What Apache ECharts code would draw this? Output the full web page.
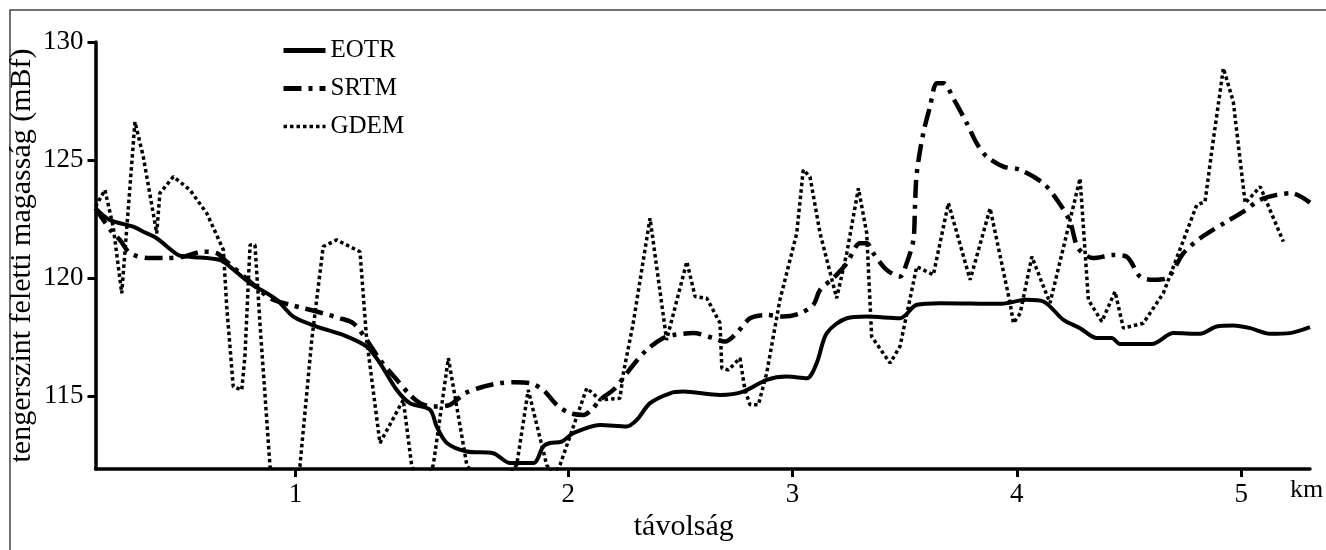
<!DOCTYPE html>
<html>
<head>
<meta charset="utf-8">
<script src="https://cdn.jsdelivr.net/npm/echarts@6/dist/echarts.min.js"></script>
<style>
  html, body { margin: 0; padding: 0; background: #fff; }
  #chart { width: 1326px; height: 550px; }
</style>
</head>
<body>
<div id="chart"></div>
<script>
// ---- data (distance in km, elevation in m above Baltic sea level) ----
const seriesNames = ['EOTR', 'SRTM', 'GDEM'];

const eotrKm = [-0.107,-0.043,0.061,0.106,0.166,0.262,0.314,0.448,0.492,0.582,0.701,0.775,0.879,0.998,1.102,1.161,1.236,1.295,1.384,1.414,1.459,1.548,1.666,1.741,1.845,1.889,1.919,1.971,2.023,2.142,2.261,2.306,2.365,2.454,2.513,2.677,2.781,2.885,2.974,3.064,3.108,3.153,3.242,3.331,3.479,3.554,3.658,3.925,4.044,4.118,4.208,4.282,4.356,4.423,4.460,4.602,4.698,4.817,4.891,4.965,5.040,5.129,5.218,5.307];
const eotrElev = [122.95,122.46,122.17,121.96,121.68,120.97,120.90,120.76,120.48,119.78,119.07,118.36,117.94,117.58,117.09,116.39,115.25,114.69,114.41,113.70,113.00,112.64,112.57,112.15,112.15,112.85,113.00,113.06,113.42,113.77,113.70,113.98,114.69,115.11,115.18,115.04,115.18,115.68,115.82,115.75,116.39,117.66,118.29,118.36,118.29,118.86,118.93,118.90,119.07,119.00,118.22,117.87,117.45,117.45,117.20,117.20,117.66,117.63,117.94,117.98,117.87,117.63,117.66,117.91];

const srtmKm = [-0.107,-0.035,0.002,0.047,0.136,0.203,0.284,0.373,0.433,0.478,0.582,0.671,0.760,0.819,0.908,0.983,1.042,1.102,1.161,1.236,1.295,1.340,1.399,1.473,1.540,1.622,1.696,1.763,1.830,1.889,1.949,2.008,2.068,2.105,2.142,2.201,2.239,2.290,2.350,2.424,2.469,2.558,2.647,2.699,2.751,2.811,2.885,2.959,3.034,3.093,3.123,3.182,3.242,3.301,3.331,3.360,3.420,3.479,3.509,3.539,3.546,3.554,3.583,3.613,3.643,3.673,3.717,3.777,3.821,3.866,3.940,4.015,4.118,4.185,4.237,4.274,4.341,4.430,4.490,4.549,4.609,4.669,4.743,4.817,4.936,5.010,5.085,5.159,5.226,5.307];
const srtmElev = [122.95,121.96,121.61,121.05,120.84,120.84,120.90,121.11,121.05,120.69,119.84,119.14,118.86,118.72,118.50,118.29,118.08,117.37,116.53,115.68,115.04,114.69,114.55,114.62,115.11,115.39,115.54,115.58,115.54,115.25,114.62,114.27,114.19,114.41,114.83,115.25,115.68,116.31,116.95,117.45,117.58,117.66,117.45,117.30,117.66,118.29,118.43,118.36,118.50,118.86,119.49,119.99,120.62,121.47,121.47,121.05,120.34,120.06,120.62,121.61,123.02,124.44,126.13,127.26,128.25,128.25,127.61,126.56,125.71,125.14,124.72,124.58,124.01,123.23,122.39,121.26,120.84,120.97,120.90,120.06,119.92,119.99,121.05,121.68,122.39,122.81,123.31,123.52,123.59,123.19];

const gdemKm = [-0.107,-0.065,-0.028,0.010,0.069,0.106,0.166,0.180,0.240,0.314,0.389,0.463,0.478,0.507,0.545,0.559,0.582,0.604,0.626,0.671,0.738,0.804,0.857,0.908,0.968,1.072,1.102,1.161,1.265,1.302,1.348,1.399,1.466,1.548,1.652,1.771,1.822,1.904,1.932,1.964,2.083,2.142,2.231,2.246,2.290,2.365,2.439,2.529,2.566,2.618,2.677,2.685,2.714,2.766,2.788,2.811,2.848,2.885,2.944,3.019,3.048,3.078,3.123,3.197,3.242,3.294,3.331,3.353,3.435,3.479,3.554,3.628,3.695,3.792,3.881,3.970,3.985,4.015,4.067,4.148,4.282,4.319,4.379,4.438,4.475,4.564,4.653,4.735,4.802,4.839,4.876,4.921,4.965,5.018,5.085,5.188];
const gdemElev = [123.02,123.73,122.17,119.35,126.62,125.14,121.89,123.59,124.29,123.73,122.74,121.19,118.78,115.39,115.25,116.67,121.40,121.40,118.08,112.01,110.5,112.0,117.37,121.33,121.61,121.11,117.37,113.00,114.83,112.08,110.8,112.08,116.60,112.08,110.5,112.08,115.25,112.08,111.6,112.08,115.33,114.83,114.90,115.96,118.08,122.53,117.37,120.69,119.21,119.14,118.08,116.17,116.10,116.60,115.25,114.62,114.62,115.96,119.07,121.89,124.58,124.29,121.89,119.14,121.05,123.80,121.89,117.51,116.39,117.09,120.48,120.13,123.17,119.92,122.95,118.93,118.08,118.50,120.90,118.93,124.22,119.07,118.15,119.42,117.87,118.08,119.35,121.40,123.09,123.23,125.85,128.89,127.47,123.17,123.87,121.54];

// tick labels as printed in the figure (the "1" tick sits left of the regular spacing)
const xTickValues = [0.785, 2, 3, 4, 5];
const xTickLabels = ['1', '2', '3', '4', '5'];
const yTickValues = [115, 120, 125, 130];

const xAxisTitle = 'távolság';
const xUnit = 'km';
const yAxisTitle = 'tengerszint feletti magasság (mBf)';

// ---- chart ----
const zip = (a, b) => a.map((v, i) => [v, b[i]]);
const FONT = "'Liberation Serif', 'Times New Roman', serif";

const chart = echarts.init(document.getElementById('chart'));
chart.setOption({
  animation: false,
  backgroundColor: '#fff',
  color: ['#000', '#000', '#000'],
  textStyle: { fontFamily: FONT, color: '#000' },
  grid: { left: 95.5, right: 16, top: 42, bottom: 81, containLabel: false, outerBoundsMode: 'none' },
  legend: {
    data: [
      { name: 'EOTR', lineStyle: { width: 5 } },
      { name: 'SRTM', lineStyle: { width: 5 } },
      { name: 'GDEM', lineStyle: { width: 3.5 } }
    ],
    orient: 'vertical',
    left: 281,
    top: 38,
    padding: 0,
    itemWidth: 42,
    itemHeight: 14,
    itemGap: 13,
    itemStyle: { opacity: 0 },
    textStyle: { fontFamily: FONT, fontSize: 25, color: '#000' }
  },
  xAxis: {
    type: 'value',
    min: -0.107,
    max: 5.307,
    name: xAxisTitle,
    nameLocation: 'middle',
    nameGap: 43,
    nameMoveOverlap: false,
    nameTextStyle: { fontFamily: FONT, fontSize: 30, color: '#000', padding: [0, 38, 0, 0] },
    axisLine: { show: true, onZero: false, lineStyle: { color: '#000', width: 3.5 } },
    axisTick: { show: true, customValues: xTickValues, length: 8, lineStyle: { color: '#000', width: 3 } },
    axisLabel: {
      customValues: xTickValues,
      margin: 12,
      fontFamily: FONT, fontSize: 27, color: '#000',
      formatter: v => xTickLabels[xTickValues.indexOf(v)] ?? ''
    },
    splitLine: { show: false }
  },
  yAxis: {
    type: 'value',
    min: 111.9,
    max: 130,
    name: yAxisTitle,
    nameLocation: 'middle',
    nameGap: 58,
    nameMoveOverlap: false,
    nameTextStyle: { fontFamily: FONT, fontSize: 30, color: '#000' },
    axisLine: { show: true, onZero: false, lineStyle: { color: '#000', width: 3.5 } },
    axisTick: { show: true, customValues: yTickValues, length: 8, lineStyle: { color: '#000', width: 3 } },
    axisLabel: {
      customValues: yTickValues,
      margin: 12,
      fontFamily: FONT, fontSize: 27, color: '#000'
    },
    splitLine: { show: false }
  },
  series: [
    {
      name: 'EOTR', type: 'line', data: zip(eotrKm, eotrElev),
      symbol: 'none', smooth: 0.3, z: 4,
      itemStyle: { color: '#000' },
      lineStyle: { color: '#000', width: 4, type: 'solid' }
    },
    {
      name: 'SRTM', type: 'line', data: zip(srtmKm, srtmElev),
      symbol: 'none', smooth: 0.3, z: 3,
      itemStyle: { color: '#000' },
      lineStyle: { color: '#000', width: 4.5, type: [18, 7, 4, 7], cap: 'butt' }
    },
    {
      name: 'GDEM', type: 'line', data: zip(gdemKm, gdemElev),
      symbol: 'none', smooth: false, z: 2,
      itemStyle: { color: '#000' },
      lineStyle: { color: '#000', width: 3.5, type: [3.5, 3], cap: 'butt' }
    }
  ],
  graphic: [
    {
      type: 'rect', silent: true, z: -1,
      shape: { x: 10, y: 10, width: 1340, height: 580 },
      style: { fill: 'none', stroke: '#444', lineWidth: 1.5 }
    },
    {
      type: 'text', left: 1290, top: 477,
      style: { text: xUnit, fontFamily: FONT, fontSize: 26, fill: '#000' }
    }
  ]
});
</script>
</body>
</html>
